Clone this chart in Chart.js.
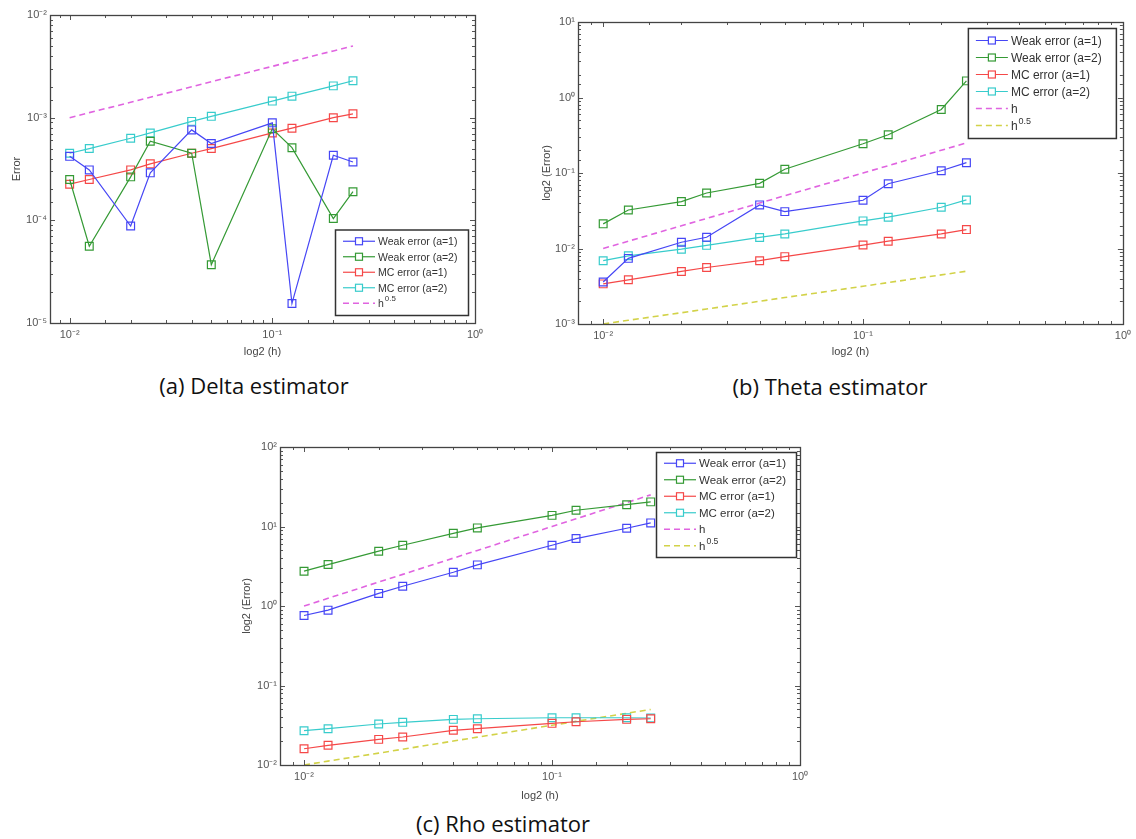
<!DOCTYPE html>
<html>
<head>
<meta charset="utf-8">
<script src="https://cdn.jsdelivr.net/npm/chart.js@4.4.1/dist/chart.umd.min.js"></script>
<style>
  body { margin: 0; background: #fff; }
  #page { position: relative; width: 1136px; height: 839px; overflow: hidden; background: #fff; }
  canvas { position: absolute; }
  .caption { position: absolute; font-family: "Open Sans", "Noto Sans", sans-serif; font-size: 22px; color: #111;
             white-space: nowrap; transform: translate(-50%, -50%); }
</style>
</head>
<body>
<div id="page">
  <canvas id="chart-delta" width="490" height="360" style="left:0px;top:0px;width:490px;height:360px"></canvas>
  <canvas id="chart-theta" width="596" height="360" style="left:540px;top:0px;width:596px;height:360px"></canvas>
  <canvas id="chart-rho" width="575" height="374" style="left:240px;top:430px;width:575px;height:374px"></canvas>
  <div class="caption" style="left:254px;top:385px">(a) Delta estimator</div>
  <div class="caption" style="left:830px;top:386px">(b) Theta estimator</div>
  <div class="caption" style="left:503px;top:823px">(c) Rho estimator</div>
</div>
<script>
// Schrittweiten h (x-Achse)
const hValues = [0.01, 0.0125, 0.02, 0.025, 0.04, 0.05, 0.1, 0.125, 0.2, 0.25];

// (a) Delta
const deltaWeak1 = [4.2e-4, 3.1e-4, 8.8e-5, 2.9e-4, 7.6e-4, 5.6e-4, 8.9e-4, 1.55e-5, 4.3e-4, 3.7e-4];
const deltaWeak2 = [2.5e-4, 5.6e-5, 2.65e-4, 5.9e-4, 4.5e-4, 3.7e-5, 7.8e-4, 5.1e-4, 1.04e-4, 1.9e-4];
const deltaMc1 = [2.25e-4, 2.5e-4, 3.1e-4, 3.55e-4, 4.5e-4, 5.0e-4, 7.1e-4, 7.9e-4, 1.0e-3, 1.09e-3];
const deltaMc2 = [4.5e-4, 5.0e-4, 6.3e-4, 7.1e-4, 9.2e-4, 1.03e-3, 1.45e-3, 1.62e-3, 2.04e-3, 2.29e-3];
const deltaHalf = [1.0e-3, 1.12e-3, 1.41e-3, 1.58e-3, 2.0e-3, 2.24e-3, 3.16e-3, 3.54e-3, 4.47e-3, 5.0e-3];

// (b) Theta
const thetaWeak1 = [3.6e-3, 7.4e-3, 0.0121, 0.0141, 0.0378, 0.0308, 0.0435, 0.072, 0.107, 0.137];
const thetaWeak2 = [0.0212, 0.0324, 0.0418, 0.0544, 0.073, 0.112, 0.244, 0.321, 0.694, 1.66];
const thetaMc1 = [3.4e-3, 3.85e-3, 4.97e-3, 5.6e-3, 6.9e-3, 7.8e-3, 0.0111, 0.0125, 0.0156, 0.0178];
const thetaMc2 = [6.9e-3, 8.0e-3, 9.8e-3, 0.011, 0.014, 0.0156, 0.0232, 0.026, 0.0352, 0.044];
const thetaH = [0.01, 0.0125, 0.02, 0.025, 0.04, 0.05, 0.1, 0.125, 0.2, 0.25];
const thetaHalf = [1.0e-3, 1.12e-3, 1.41e-3, 1.58e-3, 2.0e-3, 2.24e-3, 3.16e-3, 3.54e-3, 4.47e-3, 5.0e-3];

// (c) Rho
const rhoWeak1 = [0.76, 0.887, 1.44, 1.77, 2.66, 3.29, 5.81, 7.05, 9.5, 11.1];
const rhoWeak2 = [2.74, 3.32, 4.89, 5.81, 8.2, 9.6, 13.8, 16.0, 18.8, 20.4];
const rhoMc1 = [0.016, 0.0177, 0.021, 0.0225, 0.0273, 0.0286, 0.0334, 0.035, 0.0375, 0.0382];
const rhoMc2 = [0.027, 0.0286, 0.0328, 0.0344, 0.0375, 0.0382, 0.0393, 0.0393, 0.0393, 0.039];
const rhoH = [1, 1.25, 2, 2.5, 4, 5, 10, 12.5, 20, 25];
const rhoHalf = [0.01, 0.0112, 0.0141, 0.0158, 0.02, 0.0224, 0.0316, 0.0354, 0.0447, 0.05];

const COLORS = {
    blue: '#4646f5',
    green: '#359a35',
    red: '#f54848',
    cyan: '#38cccc',
    magenta: '#e064e0',
    yellow: '#d2d248'
};

const SUP = { '-': '⁻', '0': '⁰', '1': '¹', '2': '²', '3': '³', '4': '⁴', '5': '⁵', '6': '⁶', '7': '⁷', '8': '⁸', '9': '⁹' };
const FONT = '"Liberation Sans", Arial, sans-serif';

function isMajor(v) {
    const l = Math.log10(v);
    return Math.abs(l - Math.round(l)) < 1e-9;
}

function powLabel(v) {
    if (!isMajor(v)) return '';
    const e = String(Math.round(Math.log10(v)));
    return '10' + e.split('').map(c => SUP[c]).join('');
}

function series(label, values, color, dashed) {
    return {
        label: label,
        data: hValues.map((h, i) => ({ x: h, y: values[i] })),
        borderColor: color,
        backgroundColor: color,
        borderWidth: dashed ? 1.6 : 1.2,
        borderDash: dashed ? [6, 4] : [],
        pointStyle: 'rect',
        pointRadius: dashed ? 0 : 5.5,
        pointBorderWidth: 1.2,
        pointBackgroundColor: 'rgba(0,0,0,0)',
        pointBorderColor: color,
        tension: 0,
        fill: false
    };
}

// MATLAB-Rahmen mit Tickmarks nach innen
const matlabFrame = {
    id: 'matlabFrame',
    afterDraw(chart) {
        const ctx = chart.ctx;
        const a = chart.chartArea;
        const xs = chart.scales.x;
        const ys = chart.scales.y;
        ctx.save();
        ctx.strokeStyle = '#555';
        ctx.lineWidth = 1;
        xs.ticks.forEach(t => {
            const px = Math.round(xs.getPixelForValue(t.value)) + 0.5;
            if (px < a.left || px > a.right) return;
            const len = isMajor(t.value) ? 5 : 3;
            ctx.beginPath();
            ctx.moveTo(px, a.bottom); ctx.lineTo(px, a.bottom - len);
            ctx.moveTo(px, a.top); ctx.lineTo(px, a.top + len);
            ctx.stroke();
        });
        ys.ticks.forEach(t => {
            const py = Math.round(ys.getPixelForValue(t.value)) + 0.5;
            if (py < a.top - 1 || py > a.bottom + 1) return;
            const len = isMajor(t.value) ? 5 : 3;
            ctx.beginPath();
            ctx.moveTo(a.left, py); ctx.lineTo(a.left + len, py);
            ctx.moveTo(a.right, py); ctx.lineTo(a.right - len, py);
            ctx.stroke();
        });
        ctx.strokeStyle = '#444';
        ctx.lineWidth = 1.3;
        ctx.strokeRect(Math.round(a.left) + 0.5, Math.round(a.top) + 0.5,
            Math.round(a.right - a.left), Math.round(a.bottom - a.top));
        ctx.restore();
    }
};

// Legende im Plotbereich, wie bei MATLAB
const matlabLegend = {
    id: 'matlabLegend',
    afterDraw(chart, args, opts) {
        const ctx = chart.ctx;
        const a = chart.chartArea;
        const sets = chart.data.datasets;
        const w = opts.width;
        const h = opts.rowH * sets.length + opts.pad * 2;
        const left = a.right - opts.marginX - w;
        const top = opts.corner === 'br' ? a.bottom - opts.marginY - h : a.top + opts.marginY;
        ctx.save();
        ctx.fillStyle = '#fff';
        ctx.fillRect(left, top, w, h);
        ctx.strokeStyle = '#333';
        ctx.lineWidth = 1.5;
        ctx.strokeRect(left + 0.5, top + 0.5, w, h);
        ctx.font = opts.fontSize + 'px ' + FONT;
        ctx.textBaseline = 'middle';
        sets.forEach((ds, i) => {
            const y = top + opts.pad + opts.rowH * (i + 0.5);
            ctx.strokeStyle = ds.borderColor;
            ctx.lineWidth = ds.borderWidth;
            ctx.setLineDash(ds.borderDash || []);
            ctx.beginPath();
            ctx.moveTo(left + 8, y);
            ctx.lineTo(left + 40, y);
            ctx.stroke();
            ctx.setLineDash([]);
            if (ds.pointRadius > 0) {
                ctx.lineWidth = 1.2;
                ctx.fillStyle = '#fff';
                ctx.fillRect(left + 20.5, y - 3.5, 7, 7);
                ctx.strokeRect(left + 20.5, y - 3.5, 7, 7);
            }
            ctx.fillStyle = '#333';
            const parts = ds.label.split('^');
            ctx.fillText(parts[0], left + 43, y + 1);
            if (parts[1]) {
                const bw = ctx.measureText(parts[0]).width;
                ctx.font = (opts.fontSize * 0.75) + 'px ' + FONT;
                ctx.fillText(parts[1], left + 43 + bw + 1, y - 4);
                ctx.font = opts.fontSize + 'px ' + FONT;
            }
        });
        ctx.restore();
    }
};

function makeChart(id, datasets, cfg) {
    const tickFont = { family: FONT, size: 11 };
    const titleFont = { family: FONT, size: 11 };
    return new Chart(document.getElementById(id), {
        type: 'line',
        data: { datasets: datasets },
        plugins: [matlabFrame, matlabLegend],
        options: {
            responsive: false,
            devicePixelRatio: 1,
            animation: false,
            layout: { padding: { top: cfg.padTop, right: cfg.padRight, left: 0, bottom: 0 } },
            plugins: {
                legend: { display: false },
                tooltip: { enabled: false },
                matlabLegend: cfg.legend
            },
            scales: {
                x: {
                    type: 'logarithmic',
                    min: 0.008,
                    max: 1,
                    grid: { display: false, drawTicks: false },
                    border: { display: false },
                    afterFit: s => { s.height = cfg.xHeight; },
                    ticks: {
                        autoSkip: false, maxRotation: 0, minRotation: 0, padding: 5,
                        color: '#555', font: tickFont, callback: v => powLabel(v)
                    },
                    title: { display: true, text: 'log2 (h)', color: '#444', font: titleFont, padding: { top: 2, bottom: 1 } }
                },
                y: {
                    type: 'logarithmic',
                    min: cfg.yMin,
                    max: cfg.yMax,
                    grid: { display: false, drawTicks: false },
                    border: { display: false },
                    afterFit: s => { s.width = cfg.yWidth; },
                    ticks: {
                        autoSkip: false, padding: 3,
                        color: '#555', font: tickFont, callback: v => powLabel(v)
                    },
                    title: { display: true, text: cfg.yTitle, color: '#444', font: titleFont, padding: { top: cfg.yTitlePad, bottom: 0 } }
                }
            }
        }
    });
}

makeChart('chart-delta', [
    series('Weak error (a=1)', deltaWeak1, COLORS.blue, false),
    series('Weak error (a=2)', deltaWeak2, COLORS.green, false),
    series('MC error (a=1)', deltaMc1, COLORS.red, false),
    series('MC error (a=2)', deltaMc2, COLORS.cyan, false),
    series('h^0.5', deltaHalf, COLORS.magenta, true)
], {
    padTop: 15, padRight: 15, xHeight: 37, yWidth: 50, yMin: 1e-5, yMax: 1e-2,
    yTitle: 'Error', yTitlePad: 10,
    legend: { corner: 'br', width: 133, rowH: 15.5, pad: 4, marginX: 7, marginY: 8, fontSize: 10.5 }
});

makeChart('chart-theta', [
    series('Weak error (a=1)', thetaWeak1, COLORS.blue, false),
    series('Weak error (a=2)', thetaWeak2, COLORS.green, false),
    series('MC error (a=1)', thetaMc1, COLORS.red, false),
    series('MC error (a=2)', thetaMc2, COLORS.cyan, false),
    series('h', thetaH, COLORS.magenta, true),
    series('h^0.5', thetaHalf, COLORS.yellow, true)
], {
    padTop: 22, padRight: 9, xHeight: 36, yWidth: 38, yMin: 1e-3, yMax: 10,
    yTitle: 'log2 (Error)', yTitlePad: 0,
    legend: { corner: 'tr', width: 148, rowH: 17, pad: 4, marginX: 7, marginY: 6, fontSize: 12 }
});

makeChart('chart-rho', [
    series('Weak error (a=1)', rhoWeak1, COLORS.blue, false),
    series('Weak error (a=2)', rhoWeak2, COLORS.green, false),
    series('MC error (a=1)', rhoMc1, COLORS.red, false),
    series('MC error (a=2)', rhoMc2, COLORS.cyan, false),
    series('h', rhoH, COLORS.magenta, true),
    series('h^0.5', rhoHalf, COLORS.yellow, true)
], {
    padTop: 17, padRight: 15, xHeight: 39, yWidth: 40, yMin: 1e-2, yMax: 100,
    yTitle: 'log2 (Error)', yTitlePad: 0,
    legend: { corner: 'tr', width: 140, rowH: 16.5, pad: 3, marginX: 4, marginY: 5, fontSize: 11.5 }
});
</script>
</body>
</html>
